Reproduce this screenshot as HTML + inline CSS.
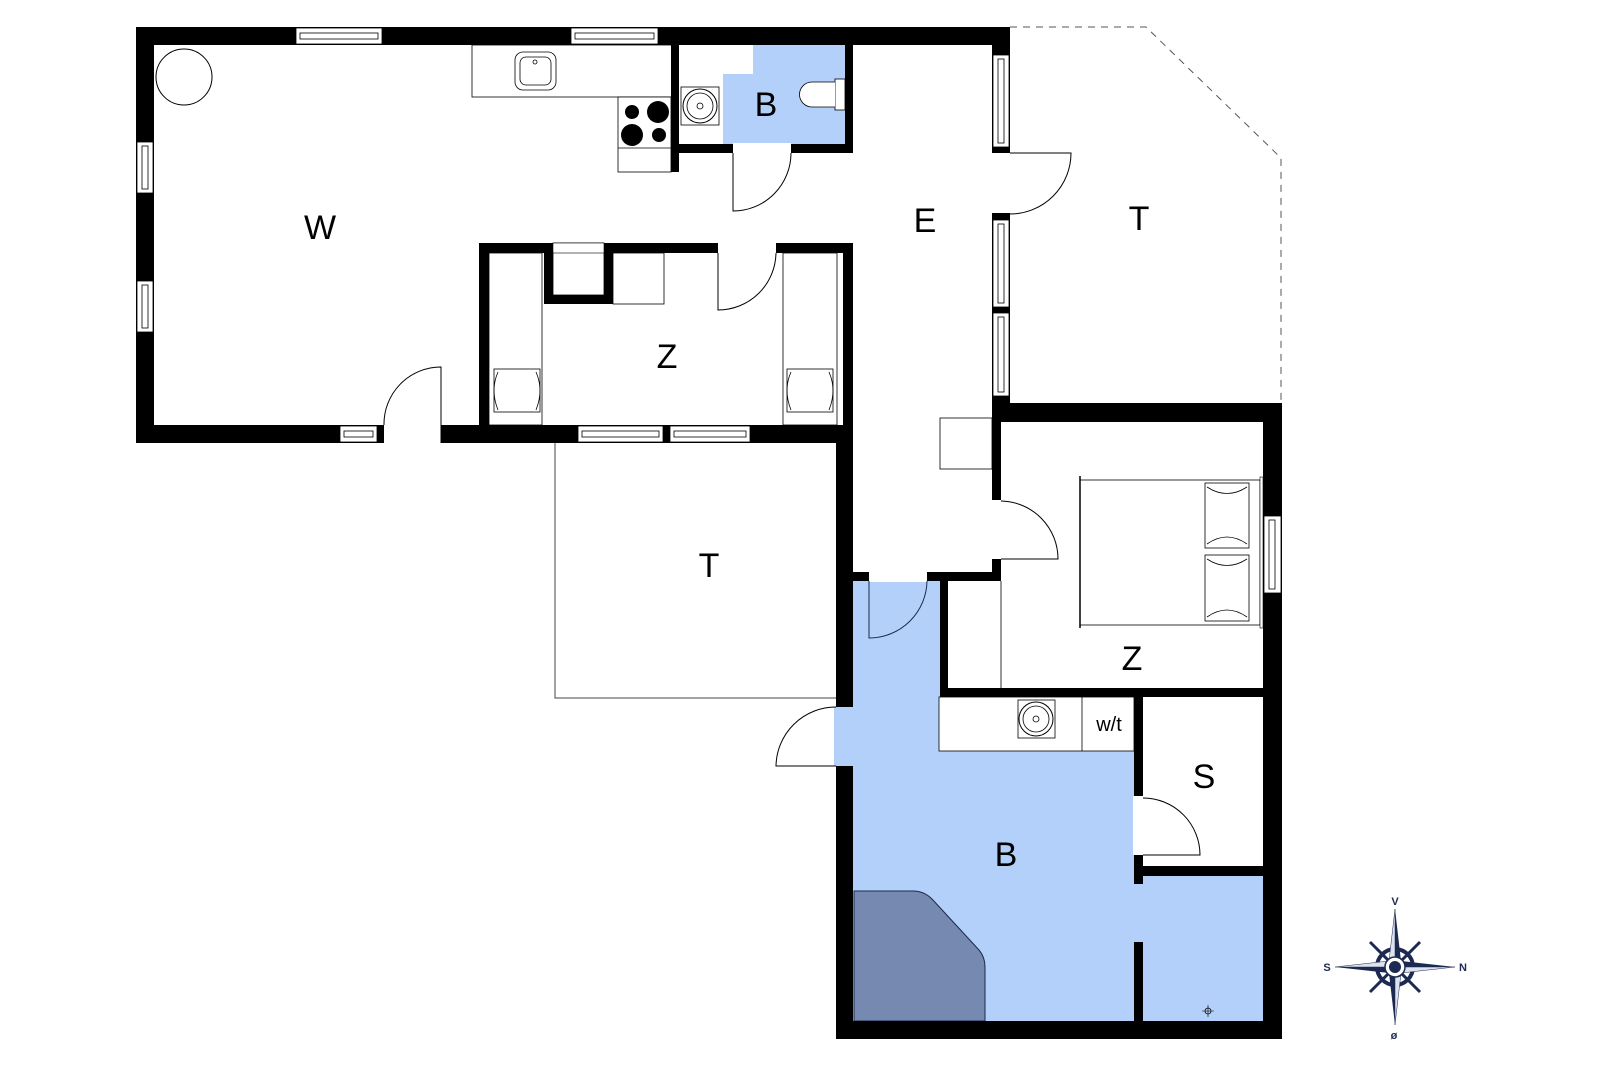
<!DOCTYPE html>
<html><head><meta charset="utf-8"><style>html,body{margin:0;padding:0;background:#fff}svg{display:block}</style></head>
<body>
<svg width="1600" height="1067" viewBox="0 0 1600 1067" xmlns="http://www.w3.org/2000/svg">
<defs>
<g id="sinkc"><circle r="17" fill="#fff" stroke="#000" stroke-width="1"/><circle r="13" fill="none" stroke="#000" stroke-width="0.8"/><circle r="3" fill="none" stroke="#000" stroke-width="0.8"/></g>
</defs>
<polygon points="753,45 845,45 845,144 791,144 791,153 733,153 733,144 723,144 723,74 753,74" fill="#b3d0fb"/>
<rect x="853" y="581" width="87" height="120" fill="#b3d0fb"/>
<rect x="853" y="697" width="410" height="324" fill="#b3d0fb"/>
<rect x="834" y="707" width="20" height="59" fill="#b3d0fb"/>
<rect x="1143" y="697" width="120" height="179" fill="#fff"/>
<path d="M854,891 L913,891 Q924,891 932,899 L979,950 Q985,957 985,967 L985,1021 L854,1021 Z" fill="#7689b0" stroke="#1a2a4a" stroke-width="1"/>
<rect x="939" y="697" width="195" height="54" fill="#fff" stroke="#000" stroke-width="0.8"/>
<line x1="1082" y1="697" x2="1082" y2="751" stroke="#000" stroke-width="0.8"/>
<rect x="1018" y="700" width="37" height="38" fill="#fff" stroke="#000" stroke-width="0.8"/>
<use href="#sinkc" x="1036" y="719"/>

<polyline points="1010,27 1146,27 1281,158 1281,403" fill="none" stroke="#555" stroke-width="1" stroke-dasharray="7,6"/>
<polyline points="555,443 555,698 836,698" fill="none" stroke="#444" stroke-width="1"/>

<circle cx="184" cy="77" r="28" fill="#fff" stroke="#000" stroke-width="1"/>
<rect x="472" y="45" width="201" height="52" fill="#fff" stroke="#000" stroke-width="0.8"/>
<rect x="515" y="52" width="41" height="38" rx="8" fill="#fff" stroke="#000" stroke-width="0.8"/>
<rect x="520" y="57" width="31" height="28" rx="6" fill="none" stroke="#000" stroke-width="0.8"/>
<circle cx="535" cy="62" r="2" fill="none" stroke="#000" stroke-width="0.8"/>
<rect x="618" y="97" width="53" height="75" fill="#fff" stroke="#000" stroke-width="0.8"/>
<line x1="618" y1="148" x2="671" y2="148" stroke="#000" stroke-width="0.8"/>
<circle cx="632" cy="112" r="7" fill="#000"/><circle cx="658" cy="112" r="11" fill="#000"/>
<circle cx="632" cy="135" r="11" fill="#000"/><circle cx="659" cy="135" r="7" fill="#000"/>
<rect x="681" y="87" width="38" height="38" fill="#fff" stroke="#000" stroke-width="0.8"/>
<use href="#sinkc" x="700" y="106"/>
<rect x="835" y="79" width="10" height="31" fill="#fff" stroke="#000" stroke-width="0.8"/>
<path d="M835,82 L812,82 A12,12 0 0 0 812,107 L835,107" fill="#fff" stroke="#000" stroke-width="0.8"/>

<rect x="489" y="253" width="53" height="172" fill="#fff" stroke="#000" stroke-width="0.8"/>
<rect x="494" y="369" width="46" height="43" fill="#fff" stroke="#000" stroke-width="0.8"/>
<path d="M498,372 Q490,390 498,410 M536,372 Q544,390 536,410" fill="none" stroke="#000" stroke-width="0.8"/>
<rect x="783" y="253" width="54" height="172" fill="#fff" stroke="#000" stroke-width="0.8"/>
<rect x="787" y="369" width="46" height="43" fill="#fff" stroke="#000" stroke-width="0.8"/>
<path d="M791,372 Q783,390 791,410 M829,372 Q837,390 829,410" fill="none" stroke="#000" stroke-width="0.8"/>
<rect x="613" y="253" width="51" height="51" fill="#fff" stroke="#000" stroke-width="0.8"/>
<rect x="553" y="243" width="51" height="52" fill="#fff" stroke="#000" stroke-width="0.8"/>

<rect x="940" y="418" width="52" height="51" fill="#fff" stroke="#000" stroke-width="0.8"/>
<line x1="1001" y1="581" x2="1001" y2="688" stroke="#000" stroke-width="0.8"/>
<rect x="1080" y="480" width="180" height="145" fill="#fff" stroke="#000" stroke-width="0.8"/>
<line x1="1080" y1="476" x2="1080" y2="628" stroke="#000" stroke-width="1.5"/>
<rect x="1260" y="477" width="3" height="151" fill="#fff" stroke="#000" stroke-width="0.6"/>
<rect x="1205" y="483" width="44" height="65" fill="#fff" stroke="#000" stroke-width="0.8"/>
<rect x="1205" y="555" width="44" height="66" fill="#fff" stroke="#000" stroke-width="0.8"/>
<path d="M1207,487 Q1227,500 1247,487 M1207,544 Q1227,530 1247,544 M1207,559 Q1227,572 1247,559 M1207,617 Q1227,603 1247,617" fill="none" stroke="#000" stroke-width="0.8"/>

<g fill="#000">
<rect x="136" y="27" width="874" height="18"/>
<rect x="136" y="27" width="18" height="416"/>
<rect x="136" y="425" width="717" height="18"/>
<rect x="992" y="27" width="18" height="395"/>
<rect x="671" y="45" width="8" height="127"/>
<rect x="845" y="45" width="8" height="108"/>
<rect x="671" y="144" width="62" height="9"/>
<rect x="791" y="144" width="62" height="9"/>
<rect x="479" y="243" width="74" height="10"/>
<rect x="604" y="243" width="114" height="10"/>
<rect x="776" y="243" width="76" height="10"/>
<rect x="479" y="243" width="10" height="182"/>
<rect x="843" y="243" width="10" height="182"/>
<rect x="544" y="243" width="9" height="61"/>
<rect x="604" y="243" width="9" height="61"/>
<rect x="544" y="295" width="69" height="9"/>
<rect x="836" y="425" width="17" height="614"/>
<rect x="992" y="403" width="290" height="19"/>
<rect x="1263" y="403" width="19" height="636"/>
<rect x="836" y="1021" width="446" height="18"/>
<rect x="992" y="403" width="9" height="97"/>
<rect x="992" y="559" width="9" height="22"/>
<rect x="853" y="572" width="16" height="9"/>
<rect x="927" y="572" width="74" height="9"/>
<rect x="940" y="572" width="8" height="125"/>
<rect x="940" y="688" width="323" height="9"/>
<rect x="1134" y="697" width="9" height="99"/>
<rect x="1134" y="855" width="9" height="29"/>
<rect x="1134" y="942" width="9" height="79"/>
<rect x="1143" y="866" width="120" height="10"/>
</g>
<g fill="#fff">
<rect x="384" y="424" width="57" height="20"/>
<rect x="733" y="143" width="58" height="11"/>
<rect x="718" y="242" width="58" height="12"/>
<rect x="991" y="153" width="20" height="60"/>
<rect x="991" y="500" width="11" height="59"/>
<rect x="869" y="571" width="58" height="11"/>
<rect x="1133" y="796" width="11" height="59"/>
</g>
<rect x="1133" y="884" width="11" height="58" fill="#b3d0fb"/>
<rect x="835" y="707" width="19" height="59" fill="#b3d0fb"/>
<rect x="553" y="243" width="51" height="10" fill="#fff" stroke="#000" stroke-width="0.6"/>
<g fill="#fff" stroke="#000" stroke-width="0.8">
<rect x="296" y="28" width="86" height="16"/><rect x="300" y="33" width="78" height="6"/>
<rect x="571" y="28" width="87" height="16"/><rect x="575" y="33" width="79" height="6"/>
<rect x="137" y="142" width="16" height="51"/><rect x="142" y="146" width="6" height="43"/>
<rect x="137" y="281" width="16" height="51"/><rect x="142" y="285" width="6" height="43"/>
<rect x="340" y="426" width="37" height="16"/><rect x="344" y="431" width="29" height="6"/>
<rect x="578" y="426" width="85" height="16"/><rect x="582" y="431" width="77" height="6"/>
<rect x="670" y="426" width="80" height="16"/><rect x="674" y="431" width="72" height="6"/>
<rect x="993" y="55" width="16" height="92"/><rect x="998" y="59" width="6" height="84"/>
<rect x="993" y="220" width="16" height="87"/><rect x="998" y="224" width="6" height="79"/>
<rect x="993" y="313" width="16" height="83"/><rect x="998" y="317" width="6" height="75"/>
<rect x="1264" y="516" width="17" height="77"/><rect x="1269" y="520" width="6" height="69"/>
</g>
<g fill="none" stroke="#000" stroke-width="1">
<path d="M441,443 L441,367 A57,57 0 0 0 384,425"/>
<path d="M733,153 L733,211 A58,58 0 0 0 791,153"/>
<path d="M718,253 L718,310 A58,58 0 0 0 776,253"/>
<path d="M1010,153 L1071,153 A61,61 0 0 1 1010,214"/>
<path d="M1001,559 L1058,559 A58,58 0 0 0 1001,501"/>
<path d="M836,766 L776,766 A60,60 0 0 1 836,707"/>
<path d="M1143,855 L1200,855 A57,57 0 0 0 1143,798"/>
</g>
<path d="M869,581 L869,638 A58,58 0 0 0 927,581" fill="none" stroke="#1a2a4a" stroke-width="1"/>
<g fill="none" stroke="#000" stroke-width="0.8"><circle cx="1208" cy="1011" r="3"/><path d="M1202,1011h12M1208,1005v12" stroke-width="0.6"/></g>

<g font-family="Liberation Sans, sans-serif" font-size="34" fill="#000" text-anchor="middle">
<text x="320" y="239">W</text>
<text x="766" y="116">B</text>
<text x="925" y="232">E</text>
<text x="1139" y="230">T</text>
<text x="667" y="368">Z</text>
<text x="709" y="577">T</text>
<text x="1132" y="670">Z</text>
<text x="1204" y="788">S</text>
<text x="1006" y="866">B</text>
<text x="1109" y="731" font-size="20">w/t</text>
</g>
<g transform="translate(1395,967)">
<g stroke="#1c2a52" stroke-width="3"><line x1="-25" y1="-25" x2="25" y2="25"/><line x1="-25" y1="25" x2="25" y2="-25"/></g>
<circle r="18" fill="none" stroke="#1c2a52" stroke-width="4"/>
<polygon points="0,-58 6,-6 0,0" fill="#1c2a52"/><polygon points="0,-58 -6,-6 0,0" fill="#dde3ee" stroke="#1c2a52" stroke-width="0.5"/>
<polygon points="0,58 -6,6 0,0" fill="#1c2a52"/><polygon points="0,58 6,6 0,0" fill="#dde3ee" stroke="#1c2a52" stroke-width="0.5"/>
<polygon points="-60,0 -6,-6 0,0" fill="#dde3ee" stroke="#1c2a52" stroke-width="0.5"/><polygon points="-60,0 -6,6 0,0" fill="#1c2a52"/>
<polygon points="60,0 6,-6 0,0" fill="#1c2a52"/><polygon points="60,0 6,6 0,0" fill="#dde3ee" stroke="#1c2a52" stroke-width="0.5"/>
<circle r="10" fill="#fff" stroke="#1c2a52" stroke-width="1.5"/><circle r="6" fill="#1c2a52"/>
<g font-family="Liberation Sans, sans-serif" font-size="11" font-weight="bold" fill="#1c2a52" text-anchor="middle">
<text x="0" y="-62">V</text><text x="-68" y="4">S</text><text x="68" y="4">N</text><text x="-1" y="72">ø</text></g>
</g>
</svg>
</body></html>
